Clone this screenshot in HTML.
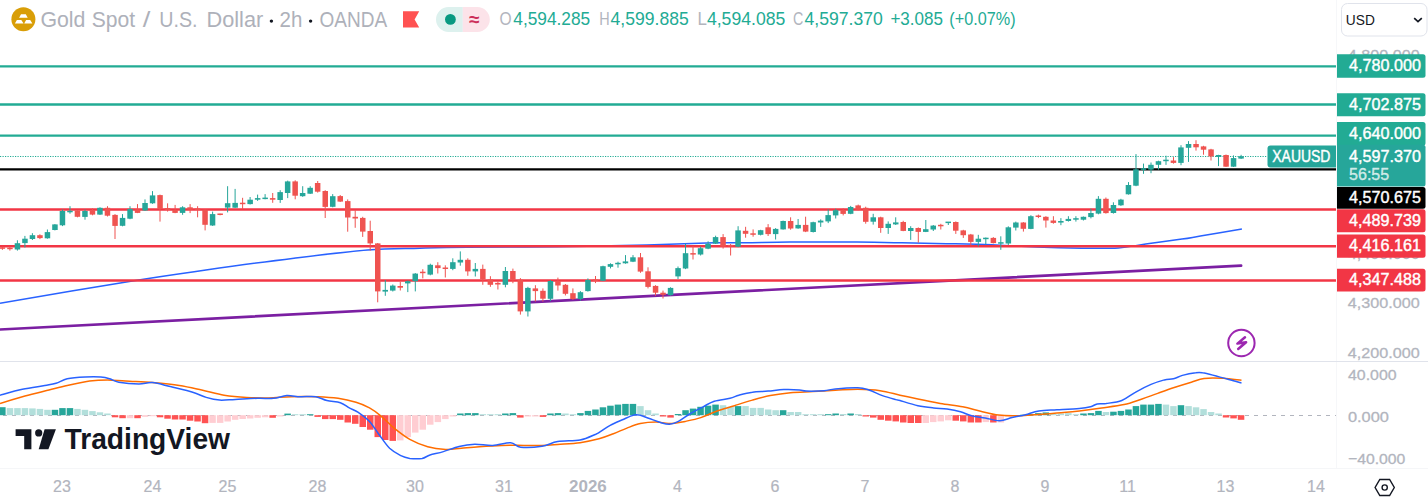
<!DOCTYPE html>
<html><head><meta charset="utf-8">
<style>
html,body{margin:0;padding:0;background:#fff;}
body{width:1428px;height:504px;position:relative;overflow:hidden;}
svg{position:absolute;left:0;top:0;font-family:"Liberation Sans", sans-serif;}
</style></head><body>
<svg width="1428" height="504" viewBox="0 0 1428 504">
<rect x="1336" y="0" width="1" height="468" fill="#F6F7F9"/>
<rect x="0" y="468" width="1428" height="1" fill="#F5F6F8"/>
<path d="M0.0,303.2 C22.1,299.5 98.1,286.4 132.4,280.9 C166.7,275.4 179.0,273.8 205.9,270.0 C232.8,266.2 267.1,261.5 294.0,258.2 C320.9,254.9 346.6,251.7 367.6,250.0 C388.6,248.3 403.4,248.7 420.0,248.2 C436.6,247.7 444.2,247.4 467.0,247.2 C489.8,247.0 527.1,247.2 557.0,246.8 C586.9,246.4 620.4,245.7 646.6,245.0 C672.8,244.3 697.6,243.2 714.0,242.8 C730.4,242.4 732.2,242.9 744.8,242.8 C757.4,242.7 771.0,242.2 789.7,242.1 C808.4,242.0 838.3,242.0 857.0,242.1 C875.7,242.2 886.9,242.5 901.8,242.8 C916.7,243.1 931.6,243.4 946.6,243.7 C961.6,244.0 976.5,244.2 991.5,244.8 C1006.5,245.4 1021.3,246.4 1036.4,247.0 C1051.5,247.6 1068.3,248.0 1082.0,248.2 C1095.7,248.3 1107.8,248.6 1118.4,247.9 C1129.0,247.2 1135.1,245.5 1145.7,244.0 C1156.3,242.5 1172.9,240.4 1182.0,239.1 C1191.1,237.8 1190.4,237.7 1200.4,236.0 C1210.4,234.3 1235.0,230.2 1241.9,229.1" fill="none" stroke="#2962FF" stroke-width="1.5"/>
<line x1="0" y1="329.5" x2="1241.1" y2="265.6" stroke="#7B1FA2" stroke-width="2.7" stroke-linecap="round"/>
<line x1="0" y1="66.4" x2="1336" y2="66.4" stroke="#22AB94" stroke-width="2.3"/>
<line x1="0" y1="104.5" x2="1336" y2="104.5" stroke="#22AB94" stroke-width="2.3"/>
<line x1="0" y1="135.6" x2="1336" y2="135.6" stroke="#22AB94" stroke-width="2.3"/>
<line x1="0" y1="156.5" x2="1267" y2="156.5" stroke="#22AB94" stroke-width="1" stroke-dasharray="1.2 1.3"/>
<line x1="0" y1="169.4" x2="1336" y2="169.4" stroke="#000" stroke-width="2.3"/>
<line x1="0" y1="209.5" x2="1336" y2="209.5" stroke="#F23645" stroke-width="2.4"/>
<line x1="0" y1="246.2" x2="1336" y2="246.2" stroke="#F23645" stroke-width="2.4"/>
<line x1="0" y1="280.5" x2="1336" y2="280.5" stroke="#F23645" stroke-width="2.4"/>
<rect x="1.9" y="246.7" width="1" height="3.2" fill="#EF5350"/>
<rect x="-0.4" y="247.3" width="5.5" height="1.5" fill="#EF5350"/>
<rect x="9.4" y="246.3" width="1" height="4.3" fill="#EF5350"/>
<rect x="7.2" y="247.7" width="5.5" height="1.5" fill="#EF5350"/>
<rect x="16.9" y="240.3" width="1" height="10.3" fill="#26A69A"/>
<rect x="14.7" y="243.2" width="5.5" height="6.3" fill="#26A69A"/>
<rect x="24.4" y="235.9" width="1" height="11.6" fill="#26A69A"/>
<rect x="22.2" y="238.7" width="5.5" height="4.4" fill="#26A69A"/>
<rect x="31.9" y="233.2" width="1" height="6.8" fill="#26A69A"/>
<rect x="29.7" y="235.2" width="5.5" height="3.8" fill="#26A69A"/>
<rect x="39.4" y="234.3" width="1" height="4.8" fill="#EF5350"/>
<rect x="37.2" y="235.2" width="5.5" height="2.9" fill="#EF5350"/>
<rect x="46.9" y="229.5" width="1" height="9.2" fill="#26A69A"/>
<rect x="44.7" y="232.1" width="5.5" height="6.2" fill="#26A69A"/>
<rect x="54.4" y="224.1" width="1" height="6.3" fill="#26A69A"/>
<rect x="52.2" y="224.4" width="5.5" height="5.6" fill="#26A69A"/>
<rect x="62.0" y="209.4" width="1" height="16.7" fill="#26A69A"/>
<rect x="59.7" y="211.0" width="5.5" height="14.3" fill="#26A69A"/>
<rect x="69.5" y="206.2" width="1" height="7.5" fill="#26A69A"/>
<rect x="67.2" y="210.8" width="5.5" height="1.5" fill="#26A69A"/>
<rect x="77.0" y="210.2" width="1" height="7.1" fill="#EF5350"/>
<rect x="74.7" y="210.5" width="5.5" height="6.3" fill="#EF5350"/>
<rect x="84.5" y="209.4" width="1" height="10.3" fill="#26A69A"/>
<rect x="82.2" y="211.0" width="5.5" height="5.9" fill="#26A69A"/>
<rect x="92.0" y="208.3" width="1" height="7.0" fill="#EF5350"/>
<rect x="89.7" y="210.2" width="5.5" height="4.4" fill="#EF5350"/>
<rect x="99.5" y="207.3" width="1" height="7.6" fill="#26A69A"/>
<rect x="97.2" y="207.8" width="5.5" height="6.8" fill="#26A69A"/>
<rect x="107.0" y="206.2" width="1" height="10.3" fill="#EF5350"/>
<rect x="104.7" y="207.8" width="5.5" height="7.9" fill="#EF5350"/>
<rect x="114.5" y="214.1" width="1" height="24.9" fill="#EF5350"/>
<rect x="112.3" y="214.9" width="5.5" height="11.0" fill="#EF5350"/>
<rect x="122.0" y="214.1" width="1" height="12.2" fill="#26A69A"/>
<rect x="119.8" y="217.9" width="5.5" height="7.9" fill="#26A69A"/>
<rect x="129.5" y="206.2" width="1" height="13.0" fill="#26A69A"/>
<rect x="127.3" y="208.9" width="5.5" height="9.8" fill="#26A69A"/>
<rect x="137.0" y="204.1" width="1" height="9.0" fill="#EF5350"/>
<rect x="134.8" y="209.4" width="5.5" height="3.5" fill="#EF5350"/>
<rect x="144.5" y="199.4" width="1" height="11.6" fill="#26A69A"/>
<rect x="142.3" y="203.0" width="5.5" height="7.5" fill="#26A69A"/>
<rect x="152.0" y="191.1" width="1" height="12.7" fill="#26A69A"/>
<rect x="149.8" y="195.4" width="5.5" height="7.9" fill="#26A69A"/>
<rect x="159.5" y="194.6" width="1" height="27.0" fill="#EF5350"/>
<rect x="157.3" y="195.1" width="5.5" height="13.8" fill="#EF5350"/>
<rect x="167.1" y="203.3" width="1" height="8.3" fill="#EF5350"/>
<rect x="164.8" y="208.1" width="5.5" height="1.9" fill="#EF5350"/>
<rect x="174.6" y="204.9" width="1" height="8.3" fill="#EF5350"/>
<rect x="172.3" y="210.0" width="5.5" height="2.9" fill="#EF5350"/>
<rect x="182.1" y="206.2" width="1" height="8.6" fill="#26A69A"/>
<rect x="179.8" y="207.3" width="5.5" height="5.6" fill="#26A69A"/>
<rect x="189.6" y="204.1" width="1" height="9.0" fill="#EF5350"/>
<rect x="187.3" y="207.3" width="5.5" height="2.4" fill="#EF5350"/>
<rect x="197.1" y="206.2" width="1" height="11.1" fill="#EF5350"/>
<rect x="194.8" y="208.5" width="5.5" height="1.5" fill="#EF5350"/>
<rect x="204.6" y="209.4" width="1" height="21.0" fill="#EF5350"/>
<rect x="202.3" y="209.7" width="5.5" height="15.1" fill="#EF5350"/>
<rect x="212.1" y="211.6" width="1" height="14.3" fill="#26A69A"/>
<rect x="209.8" y="214.1" width="5.5" height="11.4" fill="#26A69A"/>
<rect x="219.6" y="213.7" width="1" height="1.6" fill="#EF5350"/>
<rect x="217.4" y="213.5" width="5.5" height="1.5" fill="#EF5350"/>
<rect x="227.1" y="186.2" width="1" height="26.2" fill="#26A69A"/>
<rect x="224.9" y="203.2" width="5.5" height="4.4" fill="#26A69A"/>
<rect x="234.6" y="188.9" width="1" height="19.0" fill="#26A69A"/>
<rect x="232.4" y="202.9" width="5.5" height="4.8" fill="#26A69A"/>
<rect x="242.1" y="197.8" width="1" height="11.4" fill="#EF5350"/>
<rect x="239.9" y="202.7" width="5.5" height="1.5" fill="#EF5350"/>
<rect x="249.6" y="197.0" width="1" height="7.5" fill="#26A69A"/>
<rect x="247.4" y="199.7" width="5.5" height="4.4" fill="#26A69A"/>
<rect x="257.1" y="194.6" width="1" height="6.3" fill="#26A69A"/>
<rect x="254.9" y="198.1" width="5.5" height="1.6" fill="#26A69A"/>
<rect x="264.6" y="194.1" width="1" height="5.2" fill="#26A69A"/>
<rect x="262.4" y="197.6" width="5.5" height="1.5" fill="#26A69A"/>
<rect x="272.2" y="193.0" width="1" height="9.8" fill="#EF5350"/>
<rect x="269.9" y="198.1" width="5.5" height="1.6" fill="#EF5350"/>
<rect x="279.7" y="190.2" width="1" height="12.7" fill="#26A69A"/>
<rect x="277.4" y="192.1" width="5.5" height="7.9" fill="#26A69A"/>
<rect x="287.2" y="180.6" width="1" height="17.5" fill="#26A69A"/>
<rect x="284.9" y="181.4" width="5.5" height="11.6" fill="#26A69A"/>
<rect x="294.7" y="180.3" width="1" height="19.0" fill="#EF5350"/>
<rect x="292.4" y="181.4" width="5.5" height="14.3" fill="#EF5350"/>
<rect x="302.2" y="186.2" width="1" height="10.6" fill="#26A69A"/>
<rect x="299.9" y="193.0" width="5.5" height="3.2" fill="#26A69A"/>
<rect x="309.7" y="186.2" width="1" height="7.8" fill="#26A69A"/>
<rect x="307.4" y="187.8" width="5.5" height="5.9" fill="#26A69A"/>
<rect x="317.2" y="181.0" width="1" height="11.6" fill="#EF5350"/>
<rect x="314.9" y="183.0" width="5.5" height="8.7" fill="#EF5350"/>
<rect x="324.7" y="190.2" width="1" height="27.8" fill="#EF5350"/>
<rect x="322.5" y="191.0" width="5.5" height="15.9" fill="#EF5350"/>
<rect x="332.2" y="194.1" width="1" height="13.2" fill="#26A69A"/>
<rect x="330.0" y="196.2" width="5.5" height="10.6" fill="#26A69A"/>
<rect x="339.7" y="195.0" width="1" height="7.0" fill="#EF5350"/>
<rect x="337.5" y="196.1" width="5.5" height="5.5" fill="#EF5350"/>
<rect x="347.2" y="199.4" width="1" height="32.3" fill="#EF5350"/>
<rect x="345.0" y="201.1" width="5.5" height="16.4" fill="#EF5350"/>
<rect x="354.7" y="210.3" width="1" height="17.5" fill="#EF5350"/>
<rect x="352.5" y="216.8" width="5.5" height="1.7" fill="#EF5350"/>
<rect x="362.2" y="216.8" width="1" height="20.1" fill="#EF5350"/>
<rect x="360.0" y="217.9" width="5.5" height="13.7" fill="#EF5350"/>
<rect x="369.7" y="220.7" width="1" height="29.9" fill="#EF5350"/>
<rect x="367.5" y="231.0" width="5.5" height="12.4" fill="#EF5350"/>
<rect x="377.2" y="243.0" width="1" height="59.3" fill="#EF5350"/>
<rect x="375.0" y="243.4" width="5.5" height="48.0" fill="#EF5350"/>
<rect x="384.8" y="280.1" width="1" height="15.7" fill="#26A69A"/>
<rect x="382.5" y="289.9" width="5.5" height="1.7" fill="#26A69A"/>
<rect x="392.3" y="284.5" width="1" height="7.0" fill="#26A69A"/>
<rect x="390.0" y="285.6" width="5.5" height="5.0" fill="#26A69A"/>
<rect x="399.8" y="281.8" width="1" height="8.7" fill="#EF5350"/>
<rect x="397.5" y="286.0" width="5.5" height="1.7" fill="#EF5350"/>
<rect x="407.3" y="280.5" width="1" height="11.6" fill="#26A69A"/>
<rect x="405.0" y="281.2" width="5.5" height="2.2" fill="#26A69A"/>
<rect x="414.8" y="273.1" width="1" height="18.3" fill="#26A69A"/>
<rect x="412.5" y="273.6" width="5.5" height="7.6" fill="#26A69A"/>
<rect x="422.3" y="269.2" width="1" height="9.2" fill="#EF5350"/>
<rect x="420.0" y="271.7" width="5.5" height="1.5" fill="#EF5350"/>
<rect x="429.8" y="263.7" width="1" height="11.6" fill="#26A69A"/>
<rect x="427.5" y="264.8" width="5.5" height="9.8" fill="#26A69A"/>
<rect x="437.3" y="262.2" width="1" height="11.3" fill="#EF5350"/>
<rect x="435.1" y="265.3" width="5.5" height="2.8" fill="#EF5350"/>
<rect x="444.8" y="265.3" width="1" height="12.2" fill="#EF5350"/>
<rect x="442.6" y="267.5" width="5.5" height="1.5" fill="#EF5350"/>
<rect x="452.3" y="258.3" width="1" height="11.9" fill="#26A69A"/>
<rect x="450.1" y="262.2" width="5.5" height="6.7" fill="#26A69A"/>
<rect x="459.8" y="251.4" width="1" height="14.3" fill="#26A69A"/>
<rect x="457.6" y="259.8" width="5.5" height="2.7" fill="#26A69A"/>
<rect x="467.3" y="258.3" width="1" height="17.5" fill="#EF5350"/>
<rect x="465.1" y="259.8" width="5.5" height="11.6" fill="#EF5350"/>
<rect x="474.8" y="263.0" width="1" height="13.5" fill="#26A69A"/>
<rect x="472.6" y="268.9" width="5.5" height="2.5" fill="#26A69A"/>
<rect x="482.3" y="264.6" width="1" height="20.2" fill="#EF5350"/>
<rect x="480.1" y="268.9" width="5.5" height="10.5" fill="#EF5350"/>
<rect x="489.9" y="276.2" width="1" height="10.6" fill="#EF5350"/>
<rect x="487.6" y="279.4" width="5.5" height="5.4" fill="#EF5350"/>
<rect x="497.4" y="281.6" width="1" height="7.9" fill="#EF5350"/>
<rect x="495.1" y="282.9" width="5.5" height="1.6" fill="#EF5350"/>
<rect x="504.9" y="267.0" width="1" height="20.3" fill="#26A69A"/>
<rect x="502.6" y="271.0" width="5.5" height="13.8" fill="#26A69A"/>
<rect x="512.4" y="268.6" width="1" height="14.6" fill="#EF5350"/>
<rect x="510.1" y="271.0" width="5.5" height="8.7" fill="#EF5350"/>
<rect x="519.9" y="278.1" width="1" height="36.5" fill="#EF5350"/>
<rect x="517.6" y="279.7" width="5.5" height="31.7" fill="#EF5350"/>
<rect x="527.4" y="286.8" width="1" height="29.7" fill="#26A69A"/>
<rect x="525.1" y="287.9" width="5.5" height="23.5" fill="#26A69A"/>
<rect x="534.9" y="285.2" width="1" height="16.3" fill="#EF5350"/>
<rect x="532.6" y="288.4" width="5.5" height="2.7" fill="#EF5350"/>
<rect x="542.4" y="288.4" width="1" height="13.2" fill="#EF5350"/>
<rect x="540.2" y="290.8" width="5.5" height="7.9" fill="#EF5350"/>
<rect x="549.9" y="280.0" width="1" height="21.1" fill="#26A69A"/>
<rect x="547.7" y="281.0" width="5.5" height="17.8" fill="#26A69A"/>
<rect x="557.4" y="277.6" width="1" height="13.0" fill="#EF5350"/>
<rect x="555.2" y="281.1" width="5.5" height="4.4" fill="#EF5350"/>
<rect x="564.9" y="284.0" width="1" height="11.4" fill="#EF5350"/>
<rect x="562.7" y="284.8" width="5.5" height="9.0" fill="#EF5350"/>
<rect x="572.4" y="288.4" width="1" height="11.4" fill="#EF5350"/>
<rect x="570.2" y="293.2" width="5.5" height="5.9" fill="#EF5350"/>
<rect x="579.9" y="291.1" width="1" height="9.5" fill="#26A69A"/>
<rect x="577.7" y="292.2" width="5.5" height="6.8" fill="#26A69A"/>
<rect x="587.4" y="278.4" width="1" height="13.2" fill="#26A69A"/>
<rect x="585.2" y="280.0" width="5.5" height="11.1" fill="#26A69A"/>
<rect x="595.0" y="276.0" width="1" height="7.1" fill="#EF5350"/>
<rect x="592.7" y="279.4" width="5.5" height="1.5" fill="#EF5350"/>
<rect x="602.5" y="265.7" width="1" height="15.4" fill="#26A69A"/>
<rect x="600.2" y="266.2" width="5.5" height="14.6" fill="#26A69A"/>
<rect x="610.0" y="263.3" width="1" height="5.1" fill="#26A69A"/>
<rect x="607.7" y="264.1" width="5.5" height="2.7" fill="#26A69A"/>
<rect x="617.5" y="261.7" width="1" height="6.0" fill="#26A69A"/>
<rect x="615.2" y="262.8" width="5.5" height="1.5" fill="#26A69A"/>
<rect x="625.0" y="255.1" width="1" height="8.6" fill="#26A69A"/>
<rect x="622.7" y="261.4" width="5.5" height="1.9" fill="#26A69A"/>
<rect x="632.5" y="255.1" width="1" height="7.0" fill="#26A69A"/>
<rect x="630.2" y="257.3" width="5.5" height="4.4" fill="#26A69A"/>
<rect x="640.0" y="253.0" width="1" height="19.8" fill="#EF5350"/>
<rect x="637.7" y="257.3" width="5.5" height="14.3" fill="#EF5350"/>
<rect x="647.5" y="267.3" width="1" height="21.1" fill="#EF5350"/>
<rect x="645.3" y="271.3" width="5.5" height="15.6" fill="#EF5350"/>
<rect x="655.0" y="285.2" width="1" height="10.6" fill="#EF5350"/>
<rect x="652.8" y="285.9" width="5.5" height="6.8" fill="#EF5350"/>
<rect x="662.5" y="290.6" width="1" height="7.9" fill="#EF5350"/>
<rect x="660.3" y="292.7" width="5.5" height="2.1" fill="#EF5350"/>
<rect x="670.0" y="287.3" width="1" height="8.3" fill="#26A69A"/>
<rect x="667.8" y="287.9" width="5.5" height="7.3" fill="#26A69A"/>
<rect x="677.5" y="266.5" width="1" height="12.5" fill="#26A69A"/>
<rect x="675.3" y="268.1" width="5.5" height="8.3" fill="#26A69A"/>
<rect x="685.0" y="243.7" width="1" height="25.4" fill="#26A69A"/>
<rect x="682.8" y="253.2" width="5.5" height="15.3" fill="#26A69A"/>
<rect x="692.5" y="246.0" width="1" height="13.5" fill="#EF5350"/>
<rect x="690.3" y="253.1" width="5.5" height="1.5" fill="#EF5350"/>
<rect x="700.1" y="246.6" width="1" height="8.9" fill="#26A69A"/>
<rect x="697.8" y="248.2" width="5.5" height="6.3" fill="#26A69A"/>
<rect x="707.6" y="241.3" width="1" height="7.9" fill="#26A69A"/>
<rect x="705.3" y="243.7" width="5.5" height="5.0" fill="#26A69A"/>
<rect x="715.1" y="235.7" width="1" height="8.3" fill="#26A69A"/>
<rect x="712.8" y="237.1" width="5.5" height="6.5" fill="#26A69A"/>
<rect x="722.6" y="234.1" width="1" height="14.5" fill="#EF5350"/>
<rect x="720.3" y="237.1" width="5.5" height="9.5" fill="#EF5350"/>
<rect x="730.1" y="244.0" width="1" height="11.5" fill="#EF5350"/>
<rect x="727.8" y="244.9" width="5.5" height="1.5" fill="#EF5350"/>
<rect x="737.6" y="226.2" width="1" height="21.0" fill="#26A69A"/>
<rect x="735.3" y="230.4" width="5.5" height="16.3" fill="#26A69A"/>
<rect x="745.1" y="226.8" width="1" height="10.9" fill="#EF5350"/>
<rect x="742.8" y="230.8" width="5.5" height="3.0" fill="#EF5350"/>
<rect x="752.6" y="229.4" width="1" height="7.3" fill="#EF5350"/>
<rect x="750.3" y="233.3" width="5.5" height="1.5" fill="#EF5350"/>
<rect x="760.1" y="229.8" width="1" height="5.6" fill="#26A69A"/>
<rect x="757.9" y="230.2" width="5.5" height="4.6" fill="#26A69A"/>
<rect x="767.6" y="224.1" width="1" height="11.9" fill="#EF5350"/>
<rect x="765.4" y="227.3" width="5.5" height="6.8" fill="#EF5350"/>
<rect x="775.1" y="228.1" width="1" height="11.4" fill="#26A69A"/>
<rect x="772.9" y="228.9" width="5.5" height="5.2" fill="#26A69A"/>
<rect x="782.6" y="220.6" width="1" height="9.0" fill="#26A69A"/>
<rect x="780.4" y="221.0" width="5.5" height="8.4" fill="#26A69A"/>
<rect x="790.1" y="217.3" width="1" height="12.4" fill="#EF5350"/>
<rect x="787.9" y="221.0" width="5.5" height="7.5" fill="#EF5350"/>
<rect x="797.6" y="219.0" width="1" height="9.8" fill="#26A69A"/>
<rect x="795.4" y="224.9" width="5.5" height="3.5" fill="#26A69A"/>
<rect x="805.1" y="216.7" width="1" height="15.4" fill="#EF5350"/>
<rect x="802.9" y="224.9" width="5.5" height="6.7" fill="#EF5350"/>
<rect x="812.7" y="221.7" width="1" height="10.8" fill="#26A69A"/>
<rect x="810.4" y="222.2" width="5.5" height="9.8" fill="#26A69A"/>
<rect x="820.2" y="219.4" width="1" height="7.5" fill="#26A69A"/>
<rect x="817.9" y="220.6" width="5.5" height="1.9" fill="#26A69A"/>
<rect x="827.7" y="209.4" width="1" height="13.7" fill="#26A69A"/>
<rect x="825.4" y="215.1" width="5.5" height="6.3" fill="#26A69A"/>
<rect x="835.2" y="208.7" width="1" height="9.8" fill="#26A69A"/>
<rect x="832.9" y="210.2" width="5.5" height="5.2" fill="#26A69A"/>
<rect x="842.7" y="208.3" width="1" height="7.1" fill="#EF5350"/>
<rect x="840.4" y="210.2" width="5.5" height="3.7" fill="#EF5350"/>
<rect x="850.2" y="205.9" width="1" height="8.3" fill="#26A69A"/>
<rect x="847.9" y="207.0" width="5.5" height="6.8" fill="#26A69A"/>
<rect x="857.7" y="204.6" width="1" height="5.7" fill="#EF5350"/>
<rect x="855.4" y="205.4" width="5.5" height="4.4" fill="#EF5350"/>
<rect x="865.2" y="206.7" width="1" height="17.0" fill="#EF5350"/>
<rect x="863.0" y="207.8" width="5.5" height="14.0" fill="#EF5350"/>
<rect x="872.7" y="213.8" width="1" height="10.8" fill="#26A69A"/>
<rect x="870.5" y="217.3" width="5.5" height="4.4" fill="#26A69A"/>
<rect x="880.2" y="216.7" width="1" height="16.1" fill="#EF5350"/>
<rect x="878.0" y="217.3" width="5.5" height="10.7" fill="#EF5350"/>
<rect x="887.7" y="221.4" width="1" height="12.5" fill="#26A69A"/>
<rect x="885.5" y="223.8" width="5.5" height="4.2" fill="#26A69A"/>
<rect x="895.2" y="217.3" width="1" height="7.7" fill="#26A69A"/>
<rect x="893.0" y="222.4" width="5.5" height="2.0" fill="#26A69A"/>
<rect x="902.7" y="220.8" width="1" height="10.4" fill="#EF5350"/>
<rect x="900.5" y="222.0" width="5.5" height="8.9" fill="#EF5350"/>
<rect x="910.2" y="226.2" width="1" height="13.7" fill="#26A69A"/>
<rect x="908.0" y="228.0" width="5.5" height="3.0" fill="#26A69A"/>
<rect x="917.8" y="227.4" width="1" height="15.2" fill="#EF5350"/>
<rect x="915.5" y="228.0" width="5.5" height="3.9" fill="#EF5350"/>
<rect x="925.3" y="220.0" width="1" height="12.1" fill="#26A69A"/>
<rect x="923.0" y="229.2" width="5.5" height="2.7" fill="#26A69A"/>
<rect x="932.8" y="225.0" width="1" height="6.0" fill="#26A69A"/>
<rect x="930.5" y="225.6" width="5.5" height="3.9" fill="#26A69A"/>
<rect x="940.3" y="223.8" width="1" height="5.7" fill="#EF5350"/>
<rect x="938.0" y="224.8" width="5.5" height="1.5" fill="#EF5350"/>
<rect x="947.8" y="222.0" width="1" height="3.0" fill="#26A69A"/>
<rect x="945.5" y="221.6" width="5.5" height="1.5" fill="#26A69A"/>
<rect x="955.3" y="221.4" width="1" height="12.5" fill="#EF5350"/>
<rect x="953.0" y="222.0" width="5.5" height="8.7" fill="#EF5350"/>
<rect x="962.8" y="229.8" width="1" height="8.1" fill="#EF5350"/>
<rect x="960.5" y="230.4" width="5.5" height="4.8" fill="#EF5350"/>
<rect x="970.3" y="233.9" width="1" height="11.5" fill="#EF5350"/>
<rect x="968.1" y="234.5" width="5.5" height="7.4" fill="#EF5350"/>
<rect x="977.8" y="234.8" width="1" height="11.6" fill="#26A69A"/>
<rect x="975.6" y="238.7" width="5.5" height="3.2" fill="#26A69A"/>
<rect x="985.3" y="237.5" width="1" height="6.8" fill="#26A69A"/>
<rect x="983.1" y="237.7" width="5.5" height="1.5" fill="#26A69A"/>
<rect x="992.8" y="237.1" width="1" height="6.3" fill="#EF5350"/>
<rect x="990.6" y="237.9" width="5.5" height="5.2" fill="#EF5350"/>
<rect x="1000.3" y="236.3" width="1" height="13.5" fill="#26A69A"/>
<rect x="998.1" y="242.2" width="5.5" height="1.5" fill="#26A69A"/>
<rect x="1007.8" y="226.3" width="1" height="18.7" fill="#26A69A"/>
<rect x="1005.6" y="227.3" width="5.5" height="16.2" fill="#26A69A"/>
<rect x="1015.3" y="221.6" width="1" height="8.9" fill="#26A69A"/>
<rect x="1013.1" y="222.5" width="5.5" height="5.1" fill="#26A69A"/>
<rect x="1022.9" y="222.1" width="1" height="9.5" fill="#EF5350"/>
<rect x="1020.6" y="222.5" width="5.5" height="6.3" fill="#EF5350"/>
<rect x="1030.4" y="215.2" width="1" height="14.0" fill="#26A69A"/>
<rect x="1028.1" y="216.2" width="5.5" height="12.7" fill="#26A69A"/>
<rect x="1037.9" y="214.6" width="1" height="3.5" fill="#EF5350"/>
<rect x="1035.6" y="215.5" width="5.5" height="1.5" fill="#EF5350"/>
<rect x="1045.4" y="216.2" width="1" height="11.4" fill="#EF5350"/>
<rect x="1043.1" y="216.8" width="5.5" height="3.7" fill="#EF5350"/>
<rect x="1052.9" y="216.2" width="1" height="7.5" fill="#EF5350"/>
<rect x="1050.6" y="220.5" width="5.5" height="2.4" fill="#EF5350"/>
<rect x="1060.4" y="218.1" width="1" height="7.1" fill="#26A69A"/>
<rect x="1058.1" y="221.0" width="5.5" height="1.6" fill="#26A69A"/>
<rect x="1067.9" y="216.2" width="1" height="5.4" fill="#26A69A"/>
<rect x="1065.6" y="218.9" width="5.5" height="2.1" fill="#26A69A"/>
<rect x="1075.4" y="216.2" width="1" height="5.4" fill="#26A69A"/>
<rect x="1073.2" y="218.2" width="5.5" height="1.5" fill="#26A69A"/>
<rect x="1082.9" y="216.5" width="1" height="4.0" fill="#26A69A"/>
<rect x="1080.7" y="216.8" width="5.5" height="2.9" fill="#26A69A"/>
<rect x="1090.4" y="208.6" width="1" height="9.8" fill="#26A69A"/>
<rect x="1088.2" y="213.0" width="5.5" height="4.1" fill="#26A69A"/>
<rect x="1097.9" y="196.1" width="1" height="18.2" fill="#26A69A"/>
<rect x="1095.7" y="198.8" width="5.5" height="14.8" fill="#26A69A"/>
<rect x="1105.4" y="197.5" width="1" height="16.1" fill="#EF5350"/>
<rect x="1103.2" y="198.8" width="5.5" height="14.3" fill="#EF5350"/>
<rect x="1112.9" y="202.3" width="1" height="11.3" fill="#26A69A"/>
<rect x="1110.7" y="205.0" width="5.5" height="8.0" fill="#26A69A"/>
<rect x="1120.4" y="198.8" width="1" height="7.1" fill="#26A69A"/>
<rect x="1118.2" y="199.6" width="5.5" height="5.7" fill="#26A69A"/>
<rect x="1128.0" y="182.1" width="1" height="12.5" fill="#26A69A"/>
<rect x="1125.7" y="185.0" width="5.5" height="9.3" fill="#26A69A"/>
<rect x="1135.5" y="154.1" width="1" height="32.1" fill="#26A69A"/>
<rect x="1133.2" y="169.3" width="5.5" height="16.4" fill="#26A69A"/>
<rect x="1143.0" y="163.6" width="1" height="10.2" fill="#26A69A"/>
<rect x="1140.7" y="168.3" width="5.5" height="1.5" fill="#26A69A"/>
<rect x="1150.5" y="162.5" width="1" height="10.7" fill="#26A69A"/>
<rect x="1148.2" y="164.8" width="5.5" height="4.8" fill="#26A69A"/>
<rect x="1158.0" y="160.7" width="1" height="8.9" fill="#26A69A"/>
<rect x="1155.7" y="161.2" width="5.5" height="3.6" fill="#26A69A"/>
<rect x="1165.5" y="155.7" width="1" height="9.2" fill="#26A69A"/>
<rect x="1163.2" y="159.7" width="5.5" height="1.5" fill="#26A69A"/>
<rect x="1173.0" y="157.1" width="1" height="6.5" fill="#EF5350"/>
<rect x="1170.7" y="160.5" width="5.5" height="2.4" fill="#EF5350"/>
<rect x="1180.5" y="145.2" width="1" height="20.0" fill="#26A69A"/>
<rect x="1178.2" y="147.4" width="5.5" height="15.5" fill="#26A69A"/>
<rect x="1188.0" y="141.1" width="1" height="20.8" fill="#26A69A"/>
<rect x="1185.8" y="144.0" width="5.5" height="3.8" fill="#26A69A"/>
<rect x="1195.5" y="140.2" width="1" height="10.4" fill="#EF5350"/>
<rect x="1193.3" y="144.0" width="5.5" height="3.3" fill="#EF5350"/>
<rect x="1203.0" y="145.8" width="1" height="8.9" fill="#EF5350"/>
<rect x="1200.8" y="146.4" width="5.5" height="3.3" fill="#EF5350"/>
<rect x="1210.5" y="148.8" width="1" height="11.7" fill="#EF5350"/>
<rect x="1208.3" y="149.4" width="5.5" height="7.1" fill="#EF5350"/>
<rect x="1218.0" y="154.8" width="1" height="11.3" fill="#26A69A"/>
<rect x="1215.8" y="155.0" width="5.5" height="1.9" fill="#26A69A"/>
<rect x="1225.5" y="154.5" width="1" height="12.4" fill="#EF5350"/>
<rect x="1223.3" y="155.0" width="5.5" height="11.7" fill="#EF5350"/>
<rect x="1233.0" y="155.4" width="1" height="11.5" fill="#26A69A"/>
<rect x="1230.8" y="158.1" width="5.5" height="8.6" fill="#26A69A"/>
<rect x="1240.6" y="154.8" width="1" height="4.2" fill="#26A69A"/>
<rect x="1238.3" y="156.2" width="5.5" height="2.4" fill="#26A69A"/>
<rect x="0" y="361" width="1428" height="1" fill="#E0E3EB"/>
<line x1="0" y1="415.5" x2="1336" y2="415.5" stroke="#B2B5BE" stroke-width="1" stroke-dasharray="4 5" stroke-dashoffset="6"/>
<rect x="-0.9" y="407.2" width="6.5" height="8.0" fill="#26A69A"/>
<rect x="6.7" y="408.1" width="6.5" height="7.1" fill="#B2DFDB"/>
<rect x="14.2" y="408.1" width="6.5" height="7.1" fill="#B2DFDB"/>
<rect x="21.7" y="408.1" width="6.5" height="7.1" fill="#B2DFDB"/>
<rect x="29.2" y="408.4" width="6.5" height="6.8" fill="#B2DFDB"/>
<rect x="36.7" y="408.9" width="6.5" height="6.3" fill="#B2DFDB"/>
<rect x="44.2" y="409.8" width="6.5" height="5.4" fill="#B2DFDB"/>
<rect x="51.7" y="409.8" width="6.5" height="5.4" fill="#26A69A"/>
<rect x="59.2" y="408.1" width="6.5" height="7.1" fill="#26A69A"/>
<rect x="66.7" y="408.1" width="6.5" height="7.1" fill="#26A69A"/>
<rect x="74.2" y="408.9" width="6.5" height="6.3" fill="#B2DFDB"/>
<rect x="81.7" y="409.8" width="6.5" height="5.4" fill="#B2DFDB"/>
<rect x="89.2" y="411.1" width="6.5" height="4.1" fill="#B2DFDB"/>
<rect x="96.7" y="412.3" width="6.5" height="2.9" fill="#B2DFDB"/>
<rect x="104.2" y="413.5" width="6.5" height="1.7" fill="#B2DFDB"/>
<rect x="111.8" y="415.2" width="6.5" height="2.1" fill="#FF5252"/>
<rect x="119.3" y="415.2" width="6.5" height="3.0" fill="#FF5252"/>
<rect x="126.8" y="415.2" width="6.5" height="3.0" fill="#FFCDD2"/>
<rect x="134.3" y="415.2" width="6.5" height="3.0" fill="#FF5252"/>
<rect x="141.8" y="415.2" width="6.5" height="1.6" fill="#FFCDD2"/>
<rect x="149.3" y="415.2" width="6.5" height="1.0" fill="#FFCDD2"/>
<rect x="156.8" y="415.2" width="6.5" height="2.1" fill="#FF5252"/>
<rect x="164.3" y="415.2" width="6.5" height="3.5" fill="#FF5252"/>
<rect x="171.8" y="415.2" width="6.5" height="4.3" fill="#FF5252"/>
<rect x="179.3" y="415.2" width="6.5" height="4.3" fill="#FF5252"/>
<rect x="186.8" y="415.2" width="6.5" height="5.5" fill="#FF5252"/>
<rect x="194.3" y="415.2" width="6.5" height="6.3" fill="#FF5252"/>
<rect x="201.8" y="415.2" width="6.5" height="8.0" fill="#FF5252"/>
<rect x="209.3" y="415.2" width="6.5" height="7.7" fill="#FFCDD2"/>
<rect x="216.9" y="415.2" width="6.5" height="7.7" fill="#FFCDD2"/>
<rect x="224.4" y="415.2" width="6.5" height="6.3" fill="#FFCDD2"/>
<rect x="231.9" y="415.2" width="6.5" height="4.6" fill="#FFCDD2"/>
<rect x="239.4" y="415.2" width="6.5" height="3.8" fill="#FFCDD2"/>
<rect x="246.9" y="415.2" width="6.5" height="3.3" fill="#FFCDD2"/>
<rect x="254.4" y="415.2" width="6.5" height="2.6" fill="#FFCDD2"/>
<rect x="261.9" y="415.2" width="6.5" height="2.1" fill="#FFCDD2"/>
<rect x="269.4" y="415.2" width="6.5" height="2.6" fill="#FF5252"/>
<rect x="276.9" y="415.2" width="6.5" height="1.3" fill="#FFCDD2"/>
<rect x="284.4" y="413.6" width="6.5" height="1.6" fill="#26A69A"/>
<rect x="291.9" y="414.2" width="6.5" height="1.0" fill="#B2DFDB"/>
<rect x="299.4" y="414.2" width="6.5" height="1.0" fill="#B2DFDB"/>
<rect x="306.9" y="414.2" width="6.5" height="1.0" fill="#26A69A"/>
<rect x="314.4" y="415.2" width="6.5" height="1.7" fill="#FF5252"/>
<rect x="322.0" y="415.2" width="6.5" height="3.9" fill="#FF5252"/>
<rect x="329.5" y="415.2" width="6.5" height="3.9" fill="#FF5252"/>
<rect x="337.0" y="415.2" width="6.5" height="4.6" fill="#FF5252"/>
<rect x="344.5" y="415.2" width="6.5" height="7.3" fill="#FF5252"/>
<rect x="352.0" y="415.2" width="6.5" height="8.6" fill="#FF5252"/>
<rect x="359.5" y="415.2" width="6.5" height="11.8" fill="#FF5252"/>
<rect x="367.0" y="415.2" width="6.5" height="14.5" fill="#FF5252"/>
<rect x="374.5" y="415.2" width="6.5" height="21.9" fill="#FF5252"/>
<rect x="382.0" y="415.2" width="6.5" height="24.8" fill="#FF5252"/>
<rect x="389.5" y="415.2" width="6.5" height="25.7" fill="#FF5252"/>
<rect x="397.0" y="415.2" width="6.5" height="25.2" fill="#FFCDD2"/>
<rect x="404.5" y="415.2" width="6.5" height="21.9" fill="#FFCDD2"/>
<rect x="412.0" y="415.2" width="6.5" height="17.4" fill="#FFCDD2"/>
<rect x="419.5" y="415.2" width="6.5" height="14.5" fill="#FFCDD2"/>
<rect x="427.0" y="415.2" width="6.5" height="9.5" fill="#FFCDD2"/>
<rect x="434.6" y="415.2" width="6.5" height="6.9" fill="#FFCDD2"/>
<rect x="442.1" y="415.2" width="6.5" height="3.9" fill="#FFCDD2"/>
<rect x="449.6" y="415.2" width="6.5" height="1.3" fill="#FFCDD2"/>
<rect x="457.1" y="413.5" width="6.5" height="1.7" fill="#26A69A"/>
<rect x="464.6" y="413.1" width="6.5" height="2.1" fill="#26A69A"/>
<rect x="472.1" y="413.1" width="6.5" height="2.1" fill="#26A69A"/>
<rect x="479.6" y="414.2" width="6.5" height="1.0" fill="#B2DFDB"/>
<rect x="487.1" y="414.2" width="6.5" height="1.0" fill="#B2DFDB"/>
<rect x="494.6" y="414.2" width="6.5" height="1.0" fill="#B2DFDB"/>
<rect x="502.1" y="413.5" width="6.5" height="1.7" fill="#26A69A"/>
<rect x="509.6" y="413.1" width="6.5" height="2.1" fill="#26A69A"/>
<rect x="517.1" y="415.2" width="6.5" height="2.4" fill="#FF5252"/>
<rect x="524.6" y="415.2" width="6.5" height="1.3" fill="#FFCDD2"/>
<rect x="532.1" y="415.2" width="6.5" height="1.3" fill="#FFCDD2"/>
<rect x="539.7" y="415.2" width="6.5" height="1.7" fill="#FF5252"/>
<rect x="547.2" y="413.5" width="6.5" height="1.7" fill="#26A69A"/>
<rect x="554.7" y="413.1" width="6.5" height="2.1" fill="#26A69A"/>
<rect x="562.2" y="413.5" width="6.5" height="1.7" fill="#B2DFDB"/>
<rect x="569.7" y="414.2" width="6.5" height="1.0" fill="#B2DFDB"/>
<rect x="577.2" y="413.1" width="6.5" height="2.1" fill="#26A69A"/>
<rect x="584.7" y="410.9" width="6.5" height="4.3" fill="#26A69A"/>
<rect x="592.2" y="409.5" width="6.5" height="5.7" fill="#26A69A"/>
<rect x="599.7" y="407.3" width="6.5" height="7.9" fill="#26A69A"/>
<rect x="607.2" y="405.7" width="6.5" height="9.5" fill="#26A69A"/>
<rect x="614.7" y="404.6" width="6.5" height="10.6" fill="#26A69A"/>
<rect x="622.2" y="403.9" width="6.5" height="11.3" fill="#26A69A"/>
<rect x="629.7" y="403.9" width="6.5" height="11.3" fill="#26A69A"/>
<rect x="637.2" y="406.1" width="6.5" height="9.1" fill="#B2DFDB"/>
<rect x="644.8" y="410.2" width="6.5" height="5.0" fill="#B2DFDB"/>
<rect x="652.3" y="413.5" width="6.5" height="1.7" fill="#B2DFDB"/>
<rect x="659.8" y="415.2" width="6.5" height="1.3" fill="#FF5252"/>
<rect x="667.3" y="415.2" width="6.5" height="2.4" fill="#FF5252"/>
<rect x="674.8" y="414.0" width="6.5" height="1.2" fill="#26A69A"/>
<rect x="682.3" y="410.2" width="6.5" height="5.0" fill="#26A69A"/>
<rect x="689.8" y="408.6" width="6.5" height="6.6" fill="#26A69A"/>
<rect x="697.3" y="406.8" width="6.5" height="8.4" fill="#26A69A"/>
<rect x="704.8" y="405.7" width="6.5" height="9.5" fill="#26A69A"/>
<rect x="712.3" y="404.6" width="6.5" height="10.6" fill="#26A69A"/>
<rect x="719.8" y="405.2" width="6.5" height="10.0" fill="#B2DFDB"/>
<rect x="727.3" y="406.8" width="6.5" height="8.4" fill="#B2DFDB"/>
<rect x="734.8" y="406.1" width="6.5" height="9.1" fill="#26A69A"/>
<rect x="742.3" y="406.1" width="6.5" height="9.1" fill="#B2DFDB"/>
<rect x="749.8" y="407.9" width="6.5" height="7.3" fill="#B2DFDB"/>
<rect x="757.4" y="407.9" width="6.5" height="7.3" fill="#B2DFDB"/>
<rect x="764.9" y="409.5" width="6.5" height="5.7" fill="#B2DFDB"/>
<rect x="772.4" y="410.2" width="6.5" height="5.0" fill="#B2DFDB"/>
<rect x="779.9" y="410.2" width="6.5" height="5.0" fill="#26A69A"/>
<rect x="787.4" y="412.0" width="6.5" height="3.2" fill="#B2DFDB"/>
<rect x="794.9" y="412.0" width="6.5" height="3.2" fill="#B2DFDB"/>
<rect x="802.4" y="414.2" width="6.5" height="1.0" fill="#B2DFDB"/>
<rect x="809.9" y="414.2" width="6.5" height="1.0" fill="#B2DFDB"/>
<rect x="817.4" y="414.2" width="6.5" height="1.0" fill="#B2DFDB"/>
<rect x="824.9" y="414.2" width="6.5" height="1.0" fill="#26A69A"/>
<rect x="832.4" y="413.5" width="6.5" height="1.7" fill="#26A69A"/>
<rect x="839.9" y="414.0" width="6.5" height="1.2" fill="#B2DFDB"/>
<rect x="847.4" y="413.5" width="6.5" height="1.7" fill="#26A69A"/>
<rect x="854.9" y="414.0" width="6.5" height="1.2" fill="#B2DFDB"/>
<rect x="862.5" y="415.2" width="6.5" height="1.3" fill="#FF5252"/>
<rect x="870.0" y="415.2" width="6.5" height="2.4" fill="#FF5252"/>
<rect x="877.5" y="415.2" width="6.5" height="4.6" fill="#FF5252"/>
<rect x="885.0" y="415.2" width="6.5" height="5.5" fill="#FF5252"/>
<rect x="892.5" y="415.2" width="6.5" height="6.2" fill="#FF5252"/>
<rect x="900.0" y="415.2" width="6.5" height="7.3" fill="#FF5252"/>
<rect x="907.5" y="415.2" width="6.5" height="7.8" fill="#FF5252"/>
<rect x="915.0" y="415.2" width="6.5" height="7.8" fill="#FF5252"/>
<rect x="922.5" y="415.2" width="6.5" height="7.8" fill="#FFCDD2"/>
<rect x="930.0" y="415.2" width="6.5" height="6.9" fill="#FFCDD2"/>
<rect x="937.5" y="415.2" width="6.5" height="6.2" fill="#FFCDD2"/>
<rect x="945.0" y="415.2" width="6.5" height="5.1" fill="#FFCDD2"/>
<rect x="952.5" y="415.2" width="6.5" height="5.5" fill="#FF5252"/>
<rect x="960.0" y="415.2" width="6.5" height="6.2" fill="#FF5252"/>
<rect x="967.6" y="415.2" width="6.5" height="7.3" fill="#FF5252"/>
<rect x="975.1" y="415.2" width="6.5" height="7.3" fill="#FF5252"/>
<rect x="982.6" y="415.2" width="6.5" height="6.9" fill="#FFCDD2"/>
<rect x="990.1" y="415.2" width="6.5" height="7.3" fill="#FF5252"/>
<rect x="997.6" y="415.2" width="6.5" height="7.3" fill="#FFCDD2"/>
<rect x="1005.1" y="415.2" width="6.5" height="1.7" fill="#FFCDD2"/>
<rect x="1012.6" y="415.2" width="6.5" height="1.0" fill="#FFCDD2"/>
<rect x="1020.1" y="414.2" width="6.5" height="1.0" fill="#B2DFDB"/>
<rect x="1027.6" y="414.0" width="6.5" height="1.2" fill="#26A69A"/>
<rect x="1035.1" y="413.1" width="6.5" height="2.1" fill="#26A69A"/>
<rect x="1042.6" y="412.4" width="6.5" height="2.8" fill="#26A69A"/>
<rect x="1050.1" y="414.0" width="6.5" height="1.2" fill="#B2DFDB"/>
<rect x="1057.6" y="413.5" width="6.5" height="1.7" fill="#B2DFDB"/>
<rect x="1065.1" y="413.1" width="6.5" height="2.1" fill="#B2DFDB"/>
<rect x="1072.7" y="414.2" width="6.5" height="1.0" fill="#B2DFDB"/>
<rect x="1080.2" y="413.5" width="6.5" height="1.7" fill="#26A69A"/>
<rect x="1087.7" y="413.1" width="6.5" height="2.1" fill="#26A69A"/>
<rect x="1095.2" y="410.9" width="6.5" height="4.3" fill="#26A69A"/>
<rect x="1102.7" y="412.0" width="6.5" height="3.2" fill="#B2DFDB"/>
<rect x="1110.2" y="411.7" width="6.5" height="3.5" fill="#26A69A"/>
<rect x="1117.7" y="410.9" width="6.5" height="4.3" fill="#26A69A"/>
<rect x="1125.2" y="409.5" width="6.5" height="5.7" fill="#26A69A"/>
<rect x="1132.7" y="406.1" width="6.5" height="9.1" fill="#26A69A"/>
<rect x="1140.2" y="404.6" width="6.5" height="10.6" fill="#26A69A"/>
<rect x="1147.7" y="404.6" width="6.5" height="10.6" fill="#26A69A"/>
<rect x="1155.2" y="403.9" width="6.5" height="11.3" fill="#26A69A"/>
<rect x="1162.7" y="404.6" width="6.5" height="10.6" fill="#B2DFDB"/>
<rect x="1170.2" y="406.1" width="6.5" height="9.1" fill="#B2DFDB"/>
<rect x="1177.7" y="405.2" width="6.5" height="10.0" fill="#26A69A"/>
<rect x="1185.3" y="406.1" width="6.5" height="9.1" fill="#B2DFDB"/>
<rect x="1192.8" y="407.3" width="6.5" height="7.9" fill="#B2DFDB"/>
<rect x="1200.3" y="409.1" width="6.5" height="6.1" fill="#B2DFDB"/>
<rect x="1207.8" y="412.0" width="6.5" height="3.2" fill="#B2DFDB"/>
<rect x="1215.3" y="413.5" width="6.5" height="1.7" fill="#B2DFDB"/>
<rect x="1222.8" y="415.2" width="6.5" height="2.3" fill="#FF5252"/>
<rect x="1230.3" y="415.2" width="6.5" height="3.2" fill="#FF5252"/>
<rect x="1237.8" y="415.2" width="6.5" height="4.6" fill="#FF5252"/>
<path d="M0.0,403.5 C3.7,402.3 14.9,398.8 22.4,396.7 C29.9,394.7 37.3,393.0 44.8,391.1 C52.3,389.3 59.8,387.2 67.2,385.5 C74.7,383.8 82.9,382.0 89.6,381.0 C96.4,380.1 101.6,379.9 107.6,379.9 C113.5,379.9 118.0,380.6 125.5,381.0 C133.0,381.5 143.4,381.9 152.4,382.6 C161.3,383.4 171.1,384.3 179.3,385.5 C187.5,386.8 194.2,388.4 201.7,390.0 C209.2,391.6 216.6,393.9 224.1,395.2 C231.6,396.4 239.0,397.0 246.5,397.4 C254.0,397.9 261.4,398.0 268.9,397.9 C276.4,397.7 283.1,396.9 291.3,396.7 C299.5,396.5 310.1,396.5 317.9,396.7 C325.7,397.0 331.7,397.4 338.1,398.3 C344.4,399.2 350.8,400.7 356.0,402.3 C361.3,403.9 365.4,405.7 369.5,407.9 C373.6,410.2 376.6,412.4 380.7,415.8 C384.8,419.1 389.3,424.2 394.1,428.1 C399.0,432.0 404.2,436.2 409.8,439.3 C415.4,442.4 421.8,445.0 427.7,446.7 C433.7,448.4 440.1,449.1 445.7,449.4 C451.3,449.7 455.7,448.7 461.3,448.3 C466.9,447.8 472.5,447.2 479.3,446.7 C486.0,446.2 494.2,445.6 501.7,445.4 C509.2,445.1 517.4,445.4 524.1,445.4 C530.8,445.4 536.4,445.5 542.0,445.4 C547.6,445.2 551.4,444.9 557.7,444.5 C564.1,444.0 573.2,443.6 580.1,442.7 C587.0,441.7 593.5,440.2 599.0,438.8 C604.6,437.3 608.8,435.5 613.4,433.7 C618.1,431.9 622.4,429.8 626.9,428.1 C631.4,426.4 635.5,424.6 640.3,423.6 C645.2,422.6 650.8,422.1 656.0,422.1 C661.3,422.1 666.9,423.7 671.7,423.6 C676.6,423.5 680.3,422.4 685.2,421.4 C690.0,420.4 695.6,419.3 700.8,417.6 C706.1,415.9 710.9,413.3 716.5,411.3 C722.1,409.3 728.5,407.6 734.5,405.7 C740.4,403.8 746.4,401.8 752.4,400.1 C758.4,398.4 764.0,396.8 770.3,395.6 C776.7,394.4 783.4,393.4 790.5,392.7 C797.6,392.0 805.4,392.0 812.9,391.6 C820.4,391.2 827.8,390.6 835.3,390.2 C842.8,389.9 850.2,389.3 857.7,389.3 C865.2,389.4 873.1,389.7 880.1,390.7 C887.2,391.7 893.7,393.8 900.0,395.2 C906.3,396.5 911.2,397.6 917.9,399.0 C924.6,400.4 932.9,402.1 940.3,403.5 C947.8,404.8 956.0,405.5 962.7,406.8 C969.5,408.1 974.7,409.9 980.7,411.3 C986.6,412.7 992.6,414.4 998.6,415.1 C1004.6,415.9 1010.6,415.9 1016.5,415.8 C1022.5,415.7 1027.7,415.1 1034.5,414.7 C1041.2,414.2 1049.4,413.7 1056.9,413.1 C1064.3,412.5 1071.8,411.7 1079.3,410.9 C1086.7,410.0 1094.2,409.0 1101.7,407.9 C1109.2,406.9 1117.4,406.1 1124.1,404.6 C1130.8,403.1 1136.4,400.8 1142.0,399.0 C1147.6,397.1 1152.5,395.2 1157.7,393.4 C1162.9,391.5 1167.8,389.6 1173.4,387.8 C1179.0,385.9 1186.2,383.7 1191.3,382.2 C1196.4,380.6 1198.8,379.1 1204.1,378.4 C1209.4,377.8 1216.9,378.0 1223.2,378.3 C1229.4,378.7 1238.4,380.0 1241.5,380.3" fill="none" stroke="#FF6D00" stroke-width="1.5"/>
<path d="M0.0,395.2 C3.7,394.2 14.9,390.9 22.4,389.3 C29.9,387.7 39.2,386.5 44.8,385.5 C50.4,384.5 52.3,384.4 56.0,383.3 C59.8,382.2 62.4,379.9 67.2,378.8 C72.1,377.8 79.6,377.3 85.2,377.0 C90.8,376.7 96.7,376.7 100.8,377.0 C104.9,377.3 106.8,377.9 109.8,378.8 C112.8,379.7 113.9,381.3 118.8,382.2 C123.6,383.0 133.3,383.9 138.9,384.0 C144.5,384.0 147.2,382.2 152.4,382.6 C157.6,383.1 163.6,385.0 170.3,386.6 C177.0,388.3 186.7,390.5 192.7,392.3 C198.7,394.0 201.7,396.1 206.2,397.4 C210.6,398.7 214.8,399.8 219.6,400.1 C224.5,400.4 228.9,399.7 235.3,399.4 C241.6,399.1 251.4,398.5 257.7,398.3 C264.1,398.1 268.5,398.8 273.4,398.3 C278.2,397.9 282.4,395.9 286.8,395.6 C291.3,395.4 295.5,396.5 300.3,396.7 C305.1,396.9 311.3,396.1 315.7,396.7 C320.1,397.4 322.8,399.5 326.9,400.5 C331.0,401.6 336.6,401.6 340.3,402.8 C344.1,404.0 346.3,406.3 349.3,407.9 C352.3,409.5 354.9,410.2 358.3,412.4 C361.6,414.7 366.1,417.8 369.5,421.4 C372.8,424.9 375.1,429.2 378.4,433.7 C381.8,438.2 385.9,444.6 389.6,448.3 C393.4,451.9 397.5,454.0 400.8,455.7 C404.2,457.4 406.3,457.9 409.8,458.4 C413.4,458.8 418.8,458.9 422.1,458.4 C425.5,457.8 426.4,456.1 430.0,455.0 C433.5,453.9 438.6,453.1 443.4,451.6 C448.3,450.2 453.9,447.7 459.1,446.5 C464.3,445.2 469.2,444.4 474.8,444.2 C480.4,444.1 486.7,445.6 492.7,445.4 C498.7,445.1 506.0,442.4 510.6,442.7 C515.3,443.0 515.5,446.6 520.7,447.2 C526.0,447.8 535.9,447.2 542.0,446.3 C548.2,445.3 551.4,442.6 557.7,441.6 C564.1,440.5 573.8,441.2 580.1,440.0 C586.5,438.8 592.5,435.5 595.8,434.2 C599.1,432.8 597.6,433.4 600.0,431.9 C602.4,430.4 606.5,427.3 610.2,425.3 C614.0,423.3 618.5,421.5 622.4,419.8 C626.3,418.1 630.6,415.9 633.6,415.1 C636.6,414.4 637.7,414.8 640.3,415.3 C643.0,415.9 645.9,417.3 649.3,418.5 C652.7,419.7 657.1,421.5 660.5,422.5 C663.9,423.5 666.5,424.5 669.5,424.3 C672.5,424.1 675.1,423.1 678.4,421.4 C681.8,419.7 685.5,416.4 689.6,414.0 C693.7,411.6 699.0,408.9 703.1,406.8 C707.2,404.7 709.8,402.6 714.3,401.2 C718.8,399.8 725.9,399.3 730.0,398.3 C734.1,397.3 735.2,396.2 738.9,395.2 C742.7,394.2 747.5,392.9 752.4,392.3 C757.2,391.6 762.8,391.6 768.1,391.1 C773.3,390.7 778.5,389.7 783.8,389.6 C789.0,389.4 795.7,389.7 799.4,390.0 C803.2,390.3 802.1,391.0 806.2,391.1 C810.3,391.2 819.2,391.1 824.1,390.7 C828.9,390.3 829.7,389.4 835.3,388.9 C840.9,388.4 852.1,387.6 857.7,387.8 C863.3,388.0 864.8,388.7 868.9,390.0 C873.0,391.3 877.9,394.0 882.4,395.6 C886.8,397.2 892.9,398.8 895.8,399.6 C898.7,400.5 896.3,399.5 900.0,400.5 C903.7,401.6 912.3,404.5 917.9,405.7 C923.5,406.9 928.8,407.4 933.6,407.9 C938.5,408.5 942.6,408.4 947.1,409.1 C951.5,409.7 956.4,410.6 960.5,411.7 C964.6,412.9 967.6,414.7 971.7,415.8 C975.8,416.8 980.5,417.2 985.2,418.0 C989.8,418.8 995.2,420.8 999.7,420.7 C1004.2,420.6 1007.7,418.6 1012.0,417.6 C1016.3,416.6 1021.0,415.8 1025.5,414.7 C1030.0,413.5 1033.7,411.7 1038.9,410.9 C1044.2,410.0 1050.1,410.1 1056.9,409.7 C1063.6,409.4 1073.7,409.1 1079.3,408.6 C1084.9,408.1 1087.5,407.6 1090.5,406.8 C1093.5,406.0 1094.6,404.5 1097.2,403.9 C1099.8,403.3 1102.1,404.0 1106.2,403.5 C1110.3,402.9 1117.0,402.4 1121.8,400.5 C1126.7,398.7 1130.4,394.9 1135.3,392.3 C1140.1,389.6 1146.1,386.5 1151.0,384.4 C1155.8,382.4 1160.7,380.9 1164.4,379.9 C1168.2,379.0 1170.4,379.6 1173.4,378.8 C1176.4,378.1 1178.6,376.5 1182.4,375.4 C1186.1,374.4 1192.4,373.2 1195.8,372.8 C1199.2,372.3 1199.7,372.4 1202.5,372.8 C1205.4,373.1 1208.4,373.9 1212.8,375.1 C1217.2,376.2 1224.0,378.1 1228.8,379.5 C1233.6,380.8 1239.4,382.5 1241.5,383.1" fill="none" stroke="#2962FF" stroke-width="1.5"/>
<text x="40.40" y="26.90" font-size="22.5" fill="#AEB1BA" font-weight="normal" textLength="45.00" lengthAdjust="spacingAndGlyphs">Gold</text>
<text x="91.80" y="26.90" font-size="22.5" fill="#AEB1BA" font-weight="normal" textLength="43.40" lengthAdjust="spacingAndGlyphs">Spot</text>
<text x="142.70" y="26.90" font-size="22.5" fill="#AEB1BA" font-weight="normal" textLength="7.60" lengthAdjust="spacingAndGlyphs">/</text>
<text x="159.30" y="26.90" font-size="22.5" fill="#AEB1BA" font-weight="normal" textLength="38.30" lengthAdjust="spacingAndGlyphs">U.S.</text>
<text x="206.50" y="26.90" font-size="22.5" fill="#AEB1BA" font-weight="normal" textLength="56.70" lengthAdjust="spacingAndGlyphs">Dollar</text>
<circle cx="271.4" cy="21.1" r="1.7" fill="#131722"/>
<text x="279.60" y="26.90" font-size="22.5" fill="#AEB1BA" font-weight="normal" textLength="22.80" lengthAdjust="spacingAndGlyphs">2h</text>
<circle cx="310.6" cy="21.1" r="1.7" fill="#131722"/>
<text x="319.50" y="26.90" font-size="22.5" fill="#AEB1BA" font-weight="normal" textLength="67.70" lengthAdjust="spacingAndGlyphs">OANDA</text>
<text x="499.59" y="25.20" font-size="17.8" fill="#B2B5BE" font-weight="normal" textLength="12.12" lengthAdjust="spacingAndGlyphs">O</text>
<text x="513.29" y="25.20" font-size="17.8" fill="#22AB94" font-weight="normal" textLength="76.92" lengthAdjust="spacingAndGlyphs">4,594.285</text>
<text x="599.29" y="25.20" font-size="17.8" fill="#B2B5BE" font-weight="normal" textLength="10.42" lengthAdjust="spacingAndGlyphs">H</text>
<text x="610.59" y="25.20" font-size="17.8" fill="#22AB94" font-weight="normal" textLength="78.12" lengthAdjust="spacingAndGlyphs">4,599.885</text>
<text x="697.39" y="25.20" font-size="17.8" fill="#B2B5BE" font-weight="normal" textLength="9.42" lengthAdjust="spacingAndGlyphs">L</text>
<text x="706.89" y="25.20" font-size="17.8" fill="#22AB94" font-weight="normal" textLength="78.42" lengthAdjust="spacingAndGlyphs">4,594.085</text>
<text x="792.89" y="25.20" font-size="17.8" fill="#B2B5BE" font-weight="normal" textLength="10.32" lengthAdjust="spacingAndGlyphs">C</text>
<text x="804.49" y="25.20" font-size="17.8" fill="#22AB94" font-weight="normal" textLength="78.32" lengthAdjust="spacingAndGlyphs">4,597.370</text>
<text x="890.39" y="25.20" font-size="17.8" fill="#22AB94" font-weight="normal" textLength="52.62" lengthAdjust="spacingAndGlyphs">+3.085</text>
<text x="949.29" y="25.20" font-size="17.8" fill="#22AB94" font-weight="normal" textLength="66.32" lengthAdjust="spacingAndGlyphs">(+0.07%)</text>
<rect x="1341.5" y="3.5" width="85.5" height="32.5" rx="6" fill="#fff" stroke="#E0E3EB" stroke-width="1"/>
<text x="1345.80" y="25.00" font-size="15" fill="#131722" font-weight="normal" textLength="29.00" lengthAdjust="spacingAndGlyphs">USD</text>
<path d="M1414.2 18.2 L1418 21.6 L1421.8 18.2" fill="none" stroke="#131722" stroke-width="1.7"/>
<text x="1347.88" y="59.55" font-size="15.5" fill="#B2B5BE" font-weight="normal" stroke="#B2B5BE" stroke-width="0.3" textLength="71.84" lengthAdjust="spacingAndGlyphs">4,800.000</text>
<text x="1347.88" y="259.35" font-size="15.5" fill="#B2B5BE" font-weight="normal" stroke="#B2B5BE" stroke-width="0.3" textLength="71.84" lengthAdjust="spacingAndGlyphs">4,400.000</text>
<text x="1347.88" y="308.15" font-size="15.5" fill="#B2B5BE" font-weight="normal" stroke="#B2B5BE" stroke-width="0.3" textLength="71.84" lengthAdjust="spacingAndGlyphs">4,300.000</text>
<text x="1347.88" y="358.25" font-size="15.5" fill="#B2B5BE" font-weight="normal" stroke="#B2B5BE" stroke-width="0.3" textLength="71.84" lengthAdjust="spacingAndGlyphs">4,200.000</text>
<text x="1347.98" y="379.60" font-size="15.5" fill="#B2B5BE" font-weight="normal" stroke="#B2B5BE" stroke-width="0.3" textLength="48.64" lengthAdjust="spacingAndGlyphs">40.000</text>
<text x="1347.98" y="421.50" font-size="15.5" fill="#B2B5BE" font-weight="normal" stroke="#B2B5BE" stroke-width="0.3" textLength="40.94" lengthAdjust="spacingAndGlyphs">0.000</text>
<text x="1347.98" y="463.60" font-size="15.5" fill="#B2B5BE" font-weight="normal" stroke="#B2B5BE" stroke-width="0.3" textLength="57.34" lengthAdjust="spacingAndGlyphs">−40.000</text>
<path d="M1337 54.3 H1423 Q1425.5 54.3 1425.5 56.8 V75.3 Q1425.5 77.8 1423 77.8 H1337 Z" fill="#22AB94"/>
<text x="1349.07" y="71.20" font-size="15.8" fill="#fff" font-weight="normal" stroke="#fff" stroke-width="0.4" textLength="71.86" lengthAdjust="spacingAndGlyphs">4,780.000</text>
<path d="M1337 93.2 H1423 Q1425.5 93.2 1425.5 95.7 V113.7 Q1425.5 116.2 1423 116.2 H1337 Z" fill="#22AB94"/>
<text x="1349.07" y="109.85" font-size="15.8" fill="#fff" font-weight="normal" stroke="#fff" stroke-width="0.4" textLength="71.86" lengthAdjust="spacingAndGlyphs">4,702.875</text>
<path d="M1337 122.0 H1423 Q1425.5 122.0 1425.5 124.5 V142.9 Q1425.5 145.4 1423 145.4 H1337 Z" fill="#22AB94"/>
<text x="1349.07" y="138.85" font-size="15.8" fill="#fff" font-weight="normal" stroke="#fff" stroke-width="0.4" textLength="71.86" lengthAdjust="spacingAndGlyphs">4,640.000</text>
<path d="M1337 144.8 H1423 Q1425.5 144.8 1425.5 147.3 V184 Q1425.5 186.5 1423 186.5 H1337 Z" fill="#26A69A"/>
<text x="1349.07" y="161.60" font-size="15.8" fill="#fff" font-weight="normal" stroke="#fff" stroke-width="0.4" textLength="71.86" lengthAdjust="spacingAndGlyphs">4,597.370</text>
<text x="1349.07" y="179.60" font-size="15.8" fill="rgba(255,255,255,0.72)" font-weight="normal" stroke="rgba(255,255,255,0.72)" stroke-width="0.4" textLength="40.16" lengthAdjust="spacingAndGlyphs">56:55</text>
<path d="M1337 187.0 H1423 Q1425.5 187.0 1425.5 189.5 V206.2 Q1425.5 208.7 1423 208.7 H1337 Z" fill="#000"/>
<text x="1349.07" y="203.00" font-size="15.8" fill="#fff" font-weight="normal" stroke="#fff" stroke-width="0.4" textLength="71.86" lengthAdjust="spacingAndGlyphs">4,570.675</text>
<path d="M1337 209.3 H1423 Q1425.5 209.3 1425.5 211.8 V229.8 Q1425.5 232.3 1423 232.3 H1337 Z" fill="#F23645"/>
<text x="1349.07" y="225.95" font-size="15.8" fill="#fff" font-weight="normal" stroke="#fff" stroke-width="0.4" textLength="71.86" lengthAdjust="spacingAndGlyphs">4,489.739</text>
<path d="M1337 234.5 H1423 Q1425.5 234.5 1425.5 237.0 V255.3 Q1425.5 257.8 1423 257.8 H1337 Z" fill="#F23645"/>
<text x="1349.07" y="251.30" font-size="15.8" fill="#fff" font-weight="normal" stroke="#fff" stroke-width="0.4" textLength="71.86" lengthAdjust="spacingAndGlyphs">4,416.161</text>
<path d="M1337 268.7 H1423 Q1425.5 268.7 1425.5 271.2 V289.1 Q1425.5 291.6 1423 291.6 H1337 Z" fill="#F23645"/>
<text x="1349.07" y="285.30" font-size="15.8" fill="#fff" font-weight="normal" stroke="#fff" stroke-width="0.4" textLength="71.86" lengthAdjust="spacingAndGlyphs">4,347.488</text>
<path d="M1336 145.4 H1270.5 Q1267.5 145.4 1267.5 148.4 V164.6 Q1267.5 167.6 1270.5 167.6 H1336 Z" fill="#26A69A"/>
<text x="1272.27" y="162.00" font-size="15.8" fill="#fff" font-weight="normal" stroke="#fff" stroke-width="0.4" textLength="58.16" lengthAdjust="spacingAndGlyphs">XAUUSD</text>
<text x="62" y="492.4" font-size="16" fill="#B2B5BE" text-anchor="middle" stroke="#B2B5BE" stroke-width="0.2">23</text>
<text x="152.5" y="492.4" font-size="16" fill="#B2B5BE" text-anchor="middle" stroke="#B2B5BE" stroke-width="0.2">24</text>
<text x="227.5" y="492.4" font-size="16" fill="#B2B5BE" text-anchor="middle" stroke="#B2B5BE" stroke-width="0.2">25</text>
<text x="317.5" y="492.4" font-size="16" fill="#B2B5BE" text-anchor="middle" stroke="#B2B5BE" stroke-width="0.2">28</text>
<text x="415" y="492.4" font-size="16" fill="#B2B5BE" text-anchor="middle" stroke="#B2B5BE" stroke-width="0.2">30</text>
<text x="504" y="492.4" font-size="16" fill="#B2B5BE" text-anchor="middle" stroke="#B2B5BE" stroke-width="0.2">31</text>
<text x="677.5" y="492.4" font-size="16" fill="#B2B5BE" text-anchor="middle" stroke="#B2B5BE" stroke-width="0.2">4</text>
<text x="775" y="492.4" font-size="16" fill="#B2B5BE" text-anchor="middle" stroke="#B2B5BE" stroke-width="0.2">6</text>
<text x="865" y="492.4" font-size="16" fill="#B2B5BE" text-anchor="middle" stroke="#B2B5BE" stroke-width="0.2">7</text>
<text x="955" y="492.4" font-size="16" fill="#B2B5BE" text-anchor="middle" stroke="#B2B5BE" stroke-width="0.2">8</text>
<text x="1045" y="492.4" font-size="16" fill="#B2B5BE" text-anchor="middle" stroke="#B2B5BE" stroke-width="0.2">9</text>
<text x="1127.5" y="492.4" font-size="16" fill="#B2B5BE" text-anchor="middle" stroke="#B2B5BE" stroke-width="0.2">11</text>
<text x="1225.5" y="492.4" font-size="16" fill="#B2B5BE" text-anchor="middle" stroke="#B2B5BE" stroke-width="0.2">13</text>
<text x="1316" y="492.4" font-size="16" fill="#B2B5BE" text-anchor="middle" stroke="#B2B5BE" stroke-width="0.2">14</text>
<text x="569.06" y="492.40" font-size="16" fill="#B2B5BE" font-weight="bold" textLength="37.68" lengthAdjust="spacingAndGlyphs">2026</text>
<path d="M1379.8 479.5 H1389.6 L1394.3 487.5 L1389.6 495.5 H1379.8 L1375.1 487.5 Z" fill="none" stroke="#131722" stroke-width="1.4"/>
<circle cx="1384.7" cy="487.5" r="2.6" fill="none" stroke="#131722" stroke-width="1.4"/>
<circle cx="23.4" cy="19.3" r="12" fill="#D99E07"/>
<path d="M21 14.2 H25.8 L27.7 17.7 H19.1 Z M16.9 19.9 H21.3 L23.6 23.4 H14.9 Z M26.1 19.9 H30.2 L32.4 23.4 H24.2 Z" fill="#fff"/>
<path d="M403 11.3 H419.2 L414.6 19.4 L419.2 27.5 H403 Z" fill="#FF5252"/>
<path d="M448.5 7 H462.8 V32 H448.5 A12.5 12.5 0 0 1 448.5 7 Z" fill="#DDF1EE"/>
<path d="M462.8 7 H477.3 A12.5 12.5 0 0 1 477.3 32 H462.8 Z" fill="#FCE3E9"/>
<circle cx="450.4" cy="19.4" r="5.4" fill="#089981"/>
<text x="474.3" y="26" font-size="19" fill="#CC2F5A" font-weight="bold" text-anchor="middle">≈</text>
<circle cx="1241.4" cy="343" r="13.2" fill="#fff" stroke="#9C27B0" stroke-width="2"/>
<path d="M1245 337.2 L1237.4 343.6 L1246.1 342.3 L1238.2 349" fill="none" stroke="#9C27B0" stroke-width="2.5" stroke-linejoin="round" stroke-linecap="round"/>
<path d="M15.6 429.3 H31.4 V449.3 H24.2 V436.1 H15.6 Z" fill="#131722"/>
<circle cx="38.7" cy="432.9" r="3.6" fill="#131722"/>
<path d="M44.6 429.3 H55.9 L48.4 449.3 H38.7 Z" fill="#131722"/>
<text x="64.60" y="449.30" font-size="29" fill="#131722" font-weight="bold" textLength="165.40" lengthAdjust="spacingAndGlyphs">TradingView</text>
</svg>
</body></html>
